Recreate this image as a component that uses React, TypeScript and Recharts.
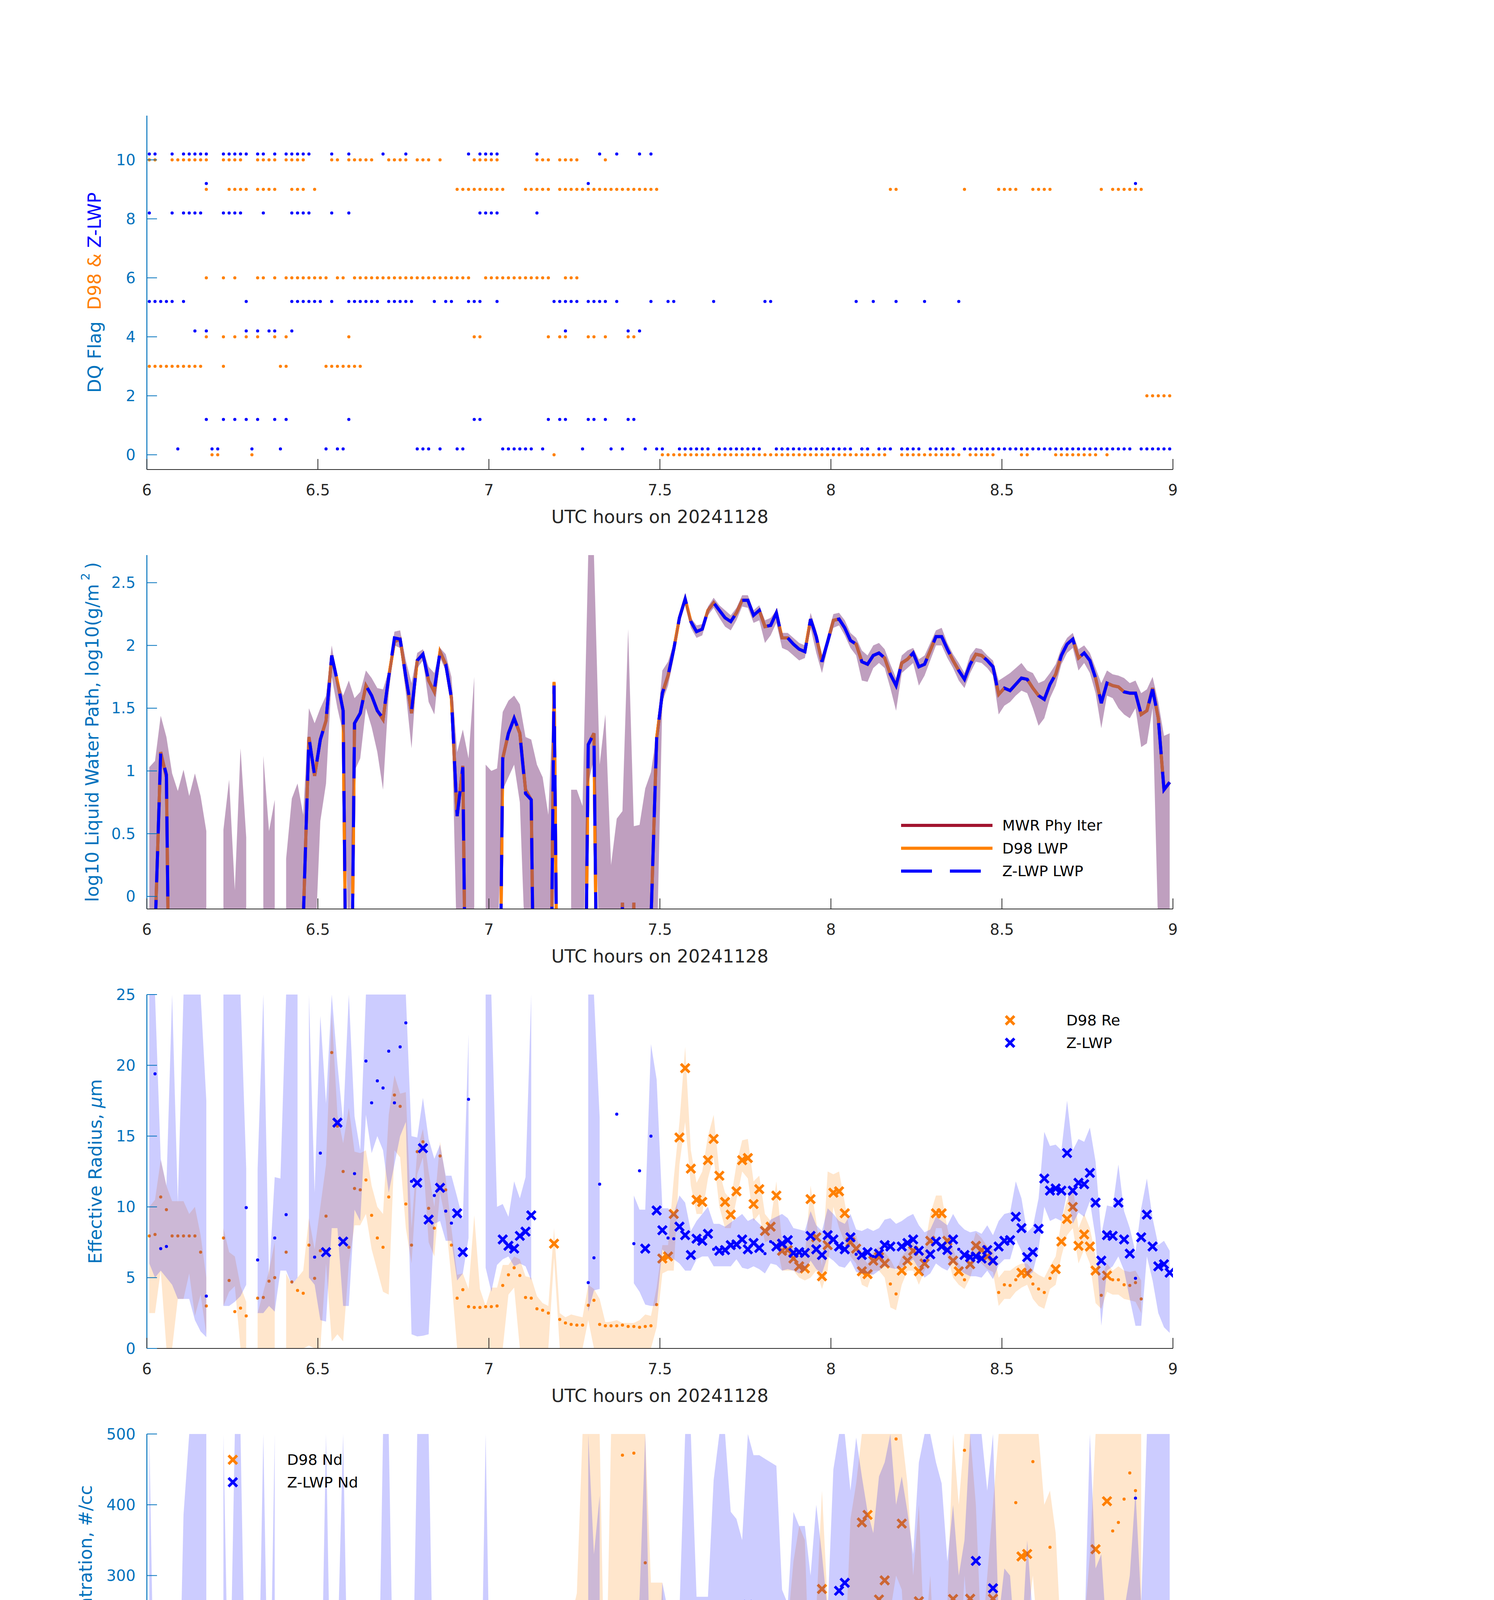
import React from "react"
import { ComposedChart, Line, Area, Scatter, XAxis, YAxis, Legend } from "recharts"

const _ = null

// one sample per minute, sample i sits at 6 h + (i + 0.43) min
const tAt = (i: number) => 6 + (i + 0.43) / 60

// ---- panel 1: DQ flags, [plotted level, sample indices] ----
const d98FlagRows: [number, number[]][] = [
  [10, [0, 1, 4, 5, 6, 7, 8, 9, 10, 13, 14, 15, 16, 19, 20, 21, 22, 24, 25, 26, 27, 32, 33, 35, 36, 37, 38, 39, 42, 43, 44, 45, 47, 48, 49, 51, 57, 58, 59, 60, 61, 68, 69, 70, 72, 73, 74, 75, 80]],
  [9, [10, 14, 15, 16, 17, 19, 20, 21, 22, 25, 26, 27, 29, 54, 55, 56, 57, 58, 59, 60, 61, 62, 66, 67, 68, 69, 70, 72, 73, 74, 75, 76, 77, 78, 79, 80, 81, 82, 83, 84, 85, 86, 87, 88, 89, 130, 131, 143, 149, 150, 151, 152, 155, 156, 157, 158, 167, 169, 170, 171, 172, 173, 174]],
  [6, [10, 13, 15, 19, 20, 22, 24, 25, 26, 27, 28, 29, 30, 31, 33, 34, 36, 37, 38, 39, 40, 41, 42, 43, 44, 45, 46, 47, 48, 49, 50, 51, 52, 53, 54, 55, 56, 59, 60, 61, 62, 63, 64, 65, 66, 67, 68, 69, 70, 73, 74, 75]],
  [4, [10, 13, 15, 17, 19, 22, 24, 35, 57, 58, 70, 72, 73, 77, 78, 80, 84, 85]],
  [3, [0, 1, 2, 3, 4, 5, 6, 7, 8, 9, 13, 23, 24, 31, 32, 33, 34, 35, 36, 37]],
  [2, [175, 176, 177, 178, 179]],
  [0, [11, 12, 18, 71, 90, 91, 92, 93, 94, 95, 96, 97, 98, 99, 100, 101, 102, 103, 104, 105, 106, 107, 108, 109, 110, 111, 112, 113, 114, 115, 116, 117, 118, 119, 120, 121, 122, 123, 124, 125, 126, 127, 128, 129, 132, 133, 134, 135, 136, 137, 138, 139, 140, 141, 142, 144, 145, 146, 147, 148, 153, 154, 159, 160, 161, 162, 163, 164, 165, 166, 168]],
]
const zFlagRows: [number, number[]][] = [
  [10.2, [0, 1, 4, 6, 7, 8, 9, 10, 13, 14, 15, 16, 17, 19, 20, 22, 24, 25, 26, 27, 28, 32, 35, 41, 45, 56, 58, 59, 60, 61, 68, 79, 82, 86, 88]],
  [9.2, [10, 77, 173]],
  [8.2, [0, 4, 6, 7, 8, 9, 13, 14, 15, 16, 20, 25, 26, 27, 28, 32, 35, 58, 59, 60, 61, 68]],
  [5.2, [0, 1, 2, 3, 4, 6, 17, 25, 26, 27, 28, 29, 30, 32, 35, 36, 37, 38, 39, 40, 42, 43, 44, 45, 46, 50, 52, 53, 56, 57, 58, 61, 71, 72, 73, 74, 75, 77, 78, 79, 80, 82, 88, 91, 92, 99, 108, 109, 124, 127, 131, 136, 142]],
  [4.2, [8, 10, 17, 19, 21, 22, 25, 73, 84, 86]],
  [1.2, [10, 13, 15, 17, 19, 22, 24, 35, 57, 58, 70, 72, 73, 77, 78, 80, 84, 85]],
  [0.2, [5, 11, 12, 18, 23, 31, 33, 34, 47, 48, 49, 51, 54, 55, 62, 63, 64, 65, 66, 67, 69, 76, 81, 83, 87, 89, 90, 93, 94, 95, 96, 97, 98, 100, 101, 102, 103, 104, 105, 106, 107, 110, 111, 112, 113, 114, 115, 116, 117, 118, 119, 120, 121, 122, 123, 125, 126, 128, 129, 130, 132, 133, 134, 135, 137, 138, 139, 140, 141, 143, 144, 145, 146, 147, 148, 149, 150, 151, 152, 153, 154, 155, 156, 157, 158, 159, 160, 161, 162, 163, 164, 165, 166, 167, 168, 169, 170, 171, 172, 174, 175, 176, 177, 178, 179]],
]

// ---- panel 2: log10 LWP ----
const lwpZ = [
  -3, -0.3, 1.15, 0.97, -3, -3, -3, -3, -3, -3,
  -3, -3, -3, -3, -3, -3, -3, -3, -3, -3,
  -3, -3, -3, -3, -3, -3, -3, -0.2, 1.27, 0.96,
  1.25, 1.4, 1.92, 1.71, 1.48, -3, 1.38, 1.46, 1.68, 1.6,
  1.48, 1.42, 1.75, 2.06, 2.05, 1.75, 1.48, 1.88, 1.93, 1.72,
  1.65, 1.95, 1.85, 1.58, 0.64, 1.03, -3, -3, -3, -3,
  -3, -3, 1.1, 1.3, 1.42, 1.3, 0.82, 0.77, -3, -3,
  -3, 1.68, -3, -3, -3, -3, -3, 1.21, 1.3, -3,
  -3, -3, -3, -0.05, -3, -3, -3, -3, -0.2, 1.26,
  1.62, 1.76, 1.97, 2.22, 2.37, 2.19, 2.11, 2.13, 2.28, 2.34,
  2.28, 2.22, 2.19, 2.26, 2.36, 2.36, 2.24, 2.28, 2.15, 2.16,
  2.26, 2.06, 2.06, 2.01, 1.97, 1.95, 2.21, 2.07, 1.87, 2.03,
  2.2, 2.21, 2.14, 2.04, 2.01, 1.87, 1.85, 1.92, 1.94, 1.9,
  1.77, 1.68, 1.86, 1.89, 1.94, 1.83, 1.85, 1.96, 2.07, 2.07,
  1.97, 1.88, 1.8, 1.73, 1.85, 1.93, 1.92, 1.88, 1.83, 1.61,
  1.66, 1.64, 1.69, 1.74, 1.73, 1.66, 1.6, 1.57, 1.69, 1.77,
  1.92, 2.01, 2.05, 1.9, 1.94, 1.88, 1.74, 1.54, 1.7, 1.68,
  1.67, 1.63, 1.62, 1.62, 1.45, 1.48, 1.65, 1.42, 0.85, 0.91,
]
const lwpD98 = [
  -3, -0.3, 1.15, 0.95, -3, -3, -3, -3, -3, -3,
  -3, -3, -3, -3, -3, -3, -3, -3, -3, -3,
  -3, -3, -3, -3, -3, -3, -3, -0.2, 1.27, 0.96,
  1.25, 1.4, 1.92, 1.71, 1.48, -3, 1.38, 1.46, 1.68, 1.6,
  1.48, 1.41, 1.75, 2.03, 2.05, 1.75, 1.46, 1.88, 1.93, 1.72,
  1.63, 1.95, 1.85, 1.58, 0.64, 1.04, -3, -3, -3, -3,
  -3, -3, 1.1, 1.3, 1.42, 1.3, 0.85, 0.77, -3, -3,
  -3, 1.71, -3, -3, -3, -3, -3, 1.21, 1.3, -3,
  -3, -3, -3, -0.05, -3, -0.05, -3, -3, -0.2, 1.26,
  1.62, 1.76, 1.97, 2.22, 2.37, 2.19, 2.11, 2.13, 2.28, 2.34,
  2.28, 2.22, 2.19, 2.26, 2.36, 2.36, 2.24, 2.28, 2.15, 2.16,
  2.26, 2.06, 2.06, 2.01, 1.97, 1.95, 2.21, 2.07, 1.87, 2.03,
  2.2, 2.21, 2.14, 2.04, 2.01, 1.87, 1.85, 1.92, 1.94, 1.9,
  1.77, 1.68, 1.86, 1.89, 1.94, 1.83, 1.85, 1.96, 2.07, 2.07,
  1.97, 1.88, 1.8, 1.73, 1.85, 1.93, 1.92, 1.88, 1.83, 1.61,
  1.66, 1.64, 1.69, 1.74, 1.73, 1.66, 1.6, 1.57, 1.69, 1.77,
  1.92, 2.01, 2.05, 1.9, 1.94, 1.88, 1.74, 1.54, 1.7, 1.68,
  1.67, 1.63, 1.62, 1.62, 1.45, 1.48, 1.66, 1.42, 0.85, 0.91,
]
const lwpMwr = [
  -3, -0.3, 1.15, 0.95, -3, -3, -3, -3, -3, -3,
  -3, -3, -3, -3, -3, -3, -3, -3, -3, -3,
  -3, -3, -3, -3, -3, -3, -3, -0.2, 1.27, 0.96,
  1.25, 1.4, 1.92, 1.71, 1.48, -3, 1.38, 1.46, 1.68, 1.6,
  1.48, 1.41, 1.75, 2.03, 2.05, 1.75, 1.46, 1.88, 1.93, 1.72,
  1.63, 1.95, 1.85, 1.58, 0.64, 1.04, -3, -3, -3, -3,
  -3, -3, 1.1, 1.3, 1.42, 1.3, 0.85, 0.77, -3, -3,
  -3, 1.7, -3, -3, -3, -3, -3, 1.21, 1.3, -3,
  -3, -3, -3, -0.05, -3, -0.05, -3, -3, -0.2, 1.26,
  1.62, 1.76, 1.97, 2.22, 2.37, 2.19, 2.11, 2.13, 2.28, 2.34,
  2.28, 2.22, 2.19, 2.26, 2.36, 2.36, 2.24, 2.28, 2.15, 2.16,
  2.26, 2.06, 2.06, 2.01, 1.97, 1.95, 2.21, 2.07, 1.87, 2.03,
  2.2, 2.21, 2.14, 2.04, 2.01, 1.87, 1.85, 1.92, 1.94, 1.9,
  1.77, 1.68, 1.86, 1.89, 1.94, 1.83, 1.85, 1.96, 2.07, 2.07,
  1.97, 1.88, 1.8, 1.73, 1.85, 1.93, 1.92, 1.88, 1.83, 1.61,
  1.66, 1.64, 1.69, 1.74, 1.73, 1.66, 1.6, 1.57, 1.69, 1.77,
  1.92, 2.01, 2.05, 1.9, 1.94, 1.88, 1.74, 1.54, 1.7, 1.68,
  1.67, 1.63, 1.62, 1.62, 1.45, 1.48, 1.66, 1.42, 0.85, 0.91,
]
const lwpBandHi = [
  1.03, 1.08, 1.44, 1.27, 0.98, 0.84, 1.01, 0.8, 0.98, 0.8,
  0.52, _, _, 0.53, 0.93, 0.05, 1.18, 0.47, _, _,
  1.12, 0.52, 0.77, _, 0.3, 0.78, 0.9, 0.65, 1.5, 1.38,
  1.5, 1.6, 2.0, 1.72, 1.6, 1.72, 1.58, 1.63, 1.8, 1.74,
  1.66, 1.65, 1.8, 2.11, 2.12, 1.88, 1.7, 1.94, 1.97, 1.83,
  1.78, 1.98, 1.93, 1.75, 1.15, 1.33, 1.1, 1.75, _, 1.05,
  1.0, 1.02, 1.47, 1.56, 1.6, 1.53, 1.27, 1.25, 1.05, 0.95,
  0.65, 1.74, _, _, 0.85, 0.85, 0.72, 2.72, 2.72, 1.05,
  1.45, 0.25, 0.62, 0.68, 2.13, 0.56, 0.57, 0.86, 0.99, 1.3,
  1.8, 1.87, 2.02, 2.25, 2.39, 2.22, 2.16, 2.17, 2.31, 2.38,
  2.32, 2.28, 2.24, 2.3, 2.4, 2.4, 2.28, 2.32, 2.2, 2.22,
  2.28, 2.1, 2.1, 2.06, 2.02, 2.0, 2.26, 2.12, 1.92, 2.08,
  2.25, 2.26, 2.2, 2.1, 2.06, 1.96, 1.92, 2.0, 2.02, 1.97,
  1.85, 1.74, 1.92, 1.96, 1.98, 1.89, 1.92, 2.02, 2.12, 2.14,
  2.02, 1.93, 1.86, 1.78, 1.92, 1.98, 1.97, 1.92, 1.88, 1.72,
  1.75, 1.78, 1.82, 1.86, 1.8, 1.78, 1.7, 1.72, 1.78, 1.85,
  1.98, 2.06, 2.1, 1.97, 2.0, 1.94, 1.82, 1.7, 1.8, 1.77,
  1.76, 1.74, 1.7, 1.72, 1.62, 1.65, 1.75, 1.55, 1.28, 1.3,
]
const lwpBandLo = [
  -0.5, -0.5, -0.5, -0.5, -0.5, -0.5, -0.5, -0.5, -0.5, -0.5,
  -0.5, _, _, -0.5, -0.5, -0.5, -0.5, -0.5, _, _,
  -0.5, -0.5, -0.5, _, -0.5, -0.5, -0.5, -0.5, -0.5, -0.5,
  0.6, 0.9, 1.75, 1.5, 1.3, -0.5, 1.0, 1.1, 1.5, 1.35,
  1.15, 0.85, 1.62, 2.0, 1.98, 1.62, 1.18, 1.82, 1.88, 1.55,
  1.45, 1.9, 1.8, 1.5, -0.5, -0.5, -0.5, -0.5, _, -0.5,
  -0.5, -0.5, 0.85, 0.95, 1.05, 0.75, -0.5, -0.5, -0.5, -0.5,
  -0.5, -0.5, _, _, -0.5, -0.5, -0.5, 0.9, 1.1, -0.5,
  -0.5, -0.5, -0.5, -0.5, -0.5, -0.5, -0.5, -0.5, -0.5, -0.5,
  1.55, 1.68, 1.9, 2.18, 2.33, 2.14, 2.06, 2.08, 2.24, 2.3,
  2.22, 2.15, 2.12, 2.2, 2.31, 2.3, 2.18, 2.2, 2.02, 2.08,
  2.18, 1.98, 1.96, 1.92, 1.88, 1.9, 2.14, 1.94, 1.78, 1.98,
  2.14, 2.16, 2.08, 1.98, 1.92, 1.72, 1.71, 1.82, 1.86, 1.82,
  1.66, 1.48, 1.78, 1.82, 1.86, 1.68, 1.76, 1.88, 2.0, 2.0,
  1.9, 1.82, 1.72, 1.66, 1.78, 1.87, 1.86, 1.82, 1.76, 1.45,
  1.52, 1.55, 1.6, 1.64, 1.62, 1.5, 1.36, 1.42, 1.58, 1.68,
  1.85, 1.94, 1.98, 1.8, 1.86, 1.78, 1.62, 1.34, 1.6, 1.58,
  1.5, 1.45, 1.42, 1.5, 1.19, 1.22, 1.5, -0.3, -0.3, -0.3,
]

// ---- panel 3: effective radius (um) ----
const reD98Hi = [
  10, 10.5, 13.3, 11.5, 10.4, 10.4, 10.4, 9.5, 10, 8,
  5, _, _, 8.5, 6.8, 6.5, 4.4, 3.3, _, 2.5,
  4, 5.5, 7.5, _, 5.3, 4.5, 5, 5.5, 9.2, 7,
  10, 13, 23.7, 16.5, 14.5, 17, 13.9, 13.8, 14, 11.5,
  10, 9.5, 16.5, 19.3, 18, 18.1, 8.5, 14, 15.5, 12.5,
  10, 14.6, 12, 8.5, 5.2, 5.3, 4.2, 9.4, 4.2, 3,
  4.3, 4.3, 5.9, 5.9, 6.5, 6.3, 5.1, 5, 3.7, 3.2,
  3, 8.5, 2.5, 2.2, 2.4, 2.3, 2.2, 4.5, 4.2, 3.5,
  1.85, 1.9, 2, 1.8, 1.8, 1.8, 2, 2.4, 2.3, 4.3,
  7.3, 7.3, 12, 16, 21.3, 14, 11.7, 12.5, 15, 16.5,
  12.5, 11, 10.5, 13, 14.7, 14.8, 11.8, 12.2, 9.5, 9,
  11.8, 7.5, 7.5, 7, 6.8, 6.5, 11.5, 9, 5.8, 12.5,
  12.3, 12.5, 10.3, 8, 8, 6.5, 6, 6.8, 7.2, 6.8,
  6.3, 5.5, 6.5, 7, 7.5, 6.5, 7, 9.5, 10.8, 10.8,
  8.5, 7, 6, 5.5, 6.8, 8.2, 7.8, 7.2, 7, 5,
  5.5, 5.5, 5.8, 6, 6, 5.5, 5.2, 5, 5.8, 6.5,
  9, 10.5, 11.5, 8.5, 9.5, 8.5, 6.5, 5, 6, 5.5,
  5.8, 5.5, 5.4, 5.5, 4.8, _, _, _, _, _,
]
const reD98Lo = [
  2.5, 2.5, 5.5, 0, 0, 3.5, 3.5, 5.3, 2.3, 3.8,
  1, _, _, 3, 4, 4.4, 0, 0, _, 0,
  0, 0, 0, _, 0, 0, 0, 0, 0.2, 0,
  0, 6, 0.5, 1, 0.5, 6, 8.7, 8.7, 9.5, 7,
  5.5, 4, 3.8, 14, 13.5, 8.5, 6, 12.3, 13.5, 7.5,
  6.5, 11, 9, 4.9, 0, 0, 0, 0, 0, 0,
  0, 0, 0, 3.8, 4.3, 0, 0, 0, 0, 0,
  0, 6.4, 0, 0, 0, 0, 0, 2, 0, 0,
  0, 0, 0, 0, 0, 0, 0, 0, 0, 1.5,
  5.3, 5.5, 5.5, 13, 16, 11.5, 9.5, 9.5, 12, 13.5,
  10, 8.5, 8.5, 10.5, 12.5, 12, 9, 9.5, 7.5, 7.7,
  7.5, 5.5, 5.5, 5.5, 5, 4.8, 5, 5.5, 4.2, 5.5,
  10, 8.5, 7.5, 6.5, 6, 4.5, 4.3, 5.5, 5.5, 5,
  2.9, 2.7, 4.5, 5.5, 5.5, 4.5, 5.5, 6.5, 8.5, 8.5,
  6.5, 5, 4.5, 4.2, 5, 6.4, 6, 5.6, 5.4, 3,
  3.5, 3.5, 4, 4.3, 4.5, 3.5, 3, 2.8, 4.2, 4.5,
  6.5, 8, 8.5, 6, 7, 6, 3.2, 2.8, 4, 3.8,
  3.8, 3.5, 3.4, 3.3, 2.5, _, _, _, _, _,
]
const reZHi = [
  25, 25, 13.4, 11.5, 25, 10.3, 25, 25, 25, 25,
  17.5, _, _, 25, 25, 25, 25, 12.7, _, 12.7,
  25, 5, 12.1, 12, 25, 25, 25, _, 25, 11,
  23.5, 17.3, 25, 20.1, 16, 25, 16.4, 14, 25, 25,
  25, 25, 25, 25, 25, 25, 15, 14.9, 17.7, 14.8,
  13.4, 14.4, 12.2, 12.2, 10.7, 9.1, 22.2, _, _, 25,
  25, 10, 10.2, 9.3, 11.8, 10.6, 12.1, 25, _, _,
  _, _, _, _, _, _, _, 25, 25, 16.3,
  _, _, 25, _, _, 10.8, 9.8, 9.8, 21.5, 19,
  9.9, 9.9, 9.5, 10.8, 10.3, 8.3, 9, 9.5, 10, 8.8,
  8.8, 8.6, 8.9, 9.2, 9.5, 9, 9.2, 8.8, 8.4, 9.1,
  9.3, 9.5, 9.2, 8.5, 8.4, 8.3, 9.7, 8.7, 8.3, 9.9,
  9.5, 9, 8.8, 9.5, 8.4, 8.3, 8.5, 8.3, 8.5, 9.1,
  9.2, 8.8, 9, 9.3, 9.5, 8.7, 8.2, 8.4, 9.3, 9,
  8.7, 9.5, 8.8, 8.4, 8.2, 8.3, 8.1, 8.7, 8, 9,
  9.5, 9.6, 11.8, 10.6, 8.2, 8.6, 10.6, 15.3, 14.3, 14.4,
  14, 17.5, 14, 14.8, 14.6, 15.6, 13.2, 8, 10.1, 10,
  13, 9.7, 8.5, 6.8, 9.9, 12, 9.2, 7.3, 7.6, 6.9,
]
const reZLo = [
  6, 5, 5.5, 5, 4.5, 3.5, 3.5, 3.5, 2, 1.2,
  0.8, _, _, 3, 3, 3.3, 3.7, 4.5, _, 2.5,
  2.5, 3, 2.6, 5.5, 5.5, 4.5, 5, _, 5, 4.5,
  2, 1.9, 8.5, 8.5, 3, 3, 9.8, 9, 16.5, 13.8,
  15, 14, 11, 13, 15, 16, 1, 0.85, 0.9, 1,
  8.8, 9, 7.6, 7.6, 4.8, 5.3, 7.8, _, _, 5.7,
  4, 5.9, 6.3, 6.5, 5.8, 6, 5.8, 4.8, _, _,
  _, _, _, _, _, _, _, 2.6, 4.1, 4.2,
  _, _, 5.9, _, _, 4.6, 4, 3.1, 3, 3,
  7, 6.5, 6.3, 6, 5.5, 5.5, 6.3, 6.5, 6.5, 5.8,
  5.8, 5.8, 5.8, 6.3, 5.7, 5.6, 5.8, 5.6, 5.3, 6,
  5.9, 5.5, 5.6, 5.5, 5.3, 5.5, 6.2, 5.6, 5.3, 6.5,
  6.2, 5.8, 5.7, 6.2, 5.4, 5.3, 5.3, 5.2, 5.5, 5.8,
  5.7, 5.6, 5.7, 6, 6.3, 5.6, 5, 5.3, 6, 5.7,
  5.5, 6.1, 5.6, 5.3, 5.1, 5.1, 5, 5.5, 4.9, 5.9,
  6.3, 6.3, 7.7, 6.9, 5.1, 5.4, 7, 10, 9, 9.2,
  9, 11, 8.8, 9.6, 9.3, 10.4, 7.8, 1.6, 5.5, 5.8,
  6.5, 5.5, 3.5, 1.6, 1.6, 6.5, 4.8, 2.5, 1.5, 1.1,
]
// [sample index, value]
const reD98Dot = [[0, 7.95], [1, 8.05], [2, 10.7], [3, 9.8], [4, 7.95], [5, 7.95], [6, 7.95], [7, 7.95], [8, 7.95], [9, 6.8], [10, 3.0], [13, 7.8], [14, 4.8], [15, 2.6], [16, 2.85], [17, 2.3], [19, 3.55], [20, 3.6], [21, 4.75], [22, 5.0], [24, 6.8], [25, 4.7], [26, 4.1], [27, 3.9], [28, 7.3], [29, 4.95], [30, 6.9], [31, 9.35], [32, 20.9], [33, 15.7], [34, 12.5], [35, 7.15], [36, 11.3], [37, 11.2], [38, 11.9], [39, 9.4], [40, 7.8], [41, 7.15], [42, 10.7], [43, 17.9], [44, 17.1], [45, 10.2], [46, 7.3], [47, 13.9], [48, 14.6], [49, 9.9], [50, 8.5], [51, 13.6], [52, 11.2], [53, 7.3], [54, 3.55], [55, 4.15], [56, 2.95], [57, 2.9], [58, 2.9], [59, 2.95], [60, 2.95], [61, 3.0], [62, 4.45], [63, 5.2], [64, 5.7], [65, 5.15], [66, 3.6], [67, 3.55], [68, 2.8], [69, 2.7], [70, 2.5], [72, 2.05], [73, 1.8], [74, 1.7], [75, 1.65], [76, 1.65], [77, 3.05], [78, 3.4], [79, 1.7], [80, 1.6], [81, 1.6], [82, 1.6], [83, 1.65], [84, 1.55], [85, 1.55], [86, 1.5], [87, 1.55], [88, 1.6], [89, 3.1], [130, 4.55], [131, 3.85], [143, 4.85], [149, 3.95], [150, 4.5], [151, 4.45], [152, 4.85], [155, 4.55], [156, 4.2], [157, 3.95], [158, 4.95], [167, 3.75], [169, 4.85], [170, 4.85], [171, 4.5], [172, 4.45], [173, 4.65], [174, 3.5]]
const reD98X = [[71, 7.4], [90, 6.35], [91, 6.5], [92, 9.5], [93, 14.9], [94, 19.8], [95, 12.7], [96, 10.5], [97, 10.35], [98, 13.3], [99, 14.8], [100, 12.2], [101, 10.35], [102, 9.45], [103, 11.1], [104, 13.3], [105, 13.45], [106, 10.2], [107, 11.25], [108, 8.3], [109, 8.6], [110, 10.8], [111, 6.9], [112, 6.95], [113, 6.35], [114, 5.8], [115, 5.65], [116, 10.55], [117, 7.85], [118, 5.1], [119, 7.3], [120, 11.0], [121, 11.1], [122, 9.55], [123, 7.5], [124, 7.05], [125, 5.45], [126, 5.25], [127, 6.2], [128, 6.45], [129, 6.0], [132, 5.5], [133, 6.2], [134, 6.9], [135, 5.45], [136, 6.0], [137, 7.6], [138, 9.55], [139, 9.55], [140, 7.6], [141, 6.2], [142, 5.45], [144, 5.95], [145, 7.25], [146, 6.95], [147, 6.5], [148, 6.2], [153, 5.35], [154, 5.3], [159, 5.6], [160, 7.55], [161, 9.15], [162, 10.0], [163, 7.25], [164, 8.05], [165, 7.2], [166, 5.5], [168, 5.15]]
const reZDot = [[1, 19.4], [2, 7.05], [3, 7.2], [10, 3.7], [17, 9.95], [19, 6.25], [22, 7.8], [24, 9.45], [29, 6.45], [30, 13.8], [36, 12.35], [38, 20.3], [39, 17.35], [40, 18.9], [41, 18.4], [42, 21.0], [43, 17.35], [44, 21.3], [45, 23.0], [46, 11.8], [50, 10.8], [52, 9.7], [53, 8.85], [56, 17.6], [77, 4.65], [78, 6.4], [79, 11.6], [82, 16.55], [85, 7.4], [86, 12.55], [88, 15.0], [91, 7.8], [92, 7.75], [99, 7.0], [108, 6.7], [109, 7.55], [124, 6.65], [127, 6.5], [136, 6.2], [142, 7.0], [173, 4.95]]
const reZX = [[31, 6.8], [33, 15.95], [34, 7.55], [47, 11.7], [48, 14.15], [49, 9.1], [51, 11.35], [54, 9.55], [55, 6.8], [62, 7.7], [63, 7.25], [64, 7.05], [65, 7.95], [66, 8.25], [67, 9.4], [87, 7.05], [89, 9.75], [90, 8.35], [93, 8.6], [94, 8.0], [95, 6.6], [96, 7.75], [97, 7.6], [98, 8.1], [100, 6.9], [101, 6.95], [102, 7.3], [103, 7.35], [104, 7.7], [105, 7.0], [106, 7.45], [107, 7.1], [110, 7.2], [111, 7.4], [112, 7.65], [113, 6.75], [114, 6.8], [115, 6.75], [116, 7.95], [117, 7.0], [118, 6.6], [119, 8.0], [120, 7.7], [121, 7.2], [122, 7.0], [123, 7.85], [125, 6.6], [126, 6.8], [128, 6.7], [129, 7.3], [130, 7.2], [132, 7.2], [133, 7.45], [134, 7.7], [135, 6.9], [137, 6.65], [138, 7.55], [139, 7.2], [140, 6.95], [141, 7.7], [143, 6.6], [144, 6.45], [145, 6.5], [146, 6.35], [147, 6.95], [148, 6.2], [149, 7.2], [150, 7.6], [151, 7.65], [152, 9.3], [153, 8.5], [154, 6.45], [155, 6.8], [156, 8.45], [157, 12.0], [158, 11.15], [159, 11.3], [160, 11.15], [161, 13.8], [162, 11.15], [163, 11.7], [164, 11.6], [165, 12.4], [166, 10.3], [167, 6.2], [168, 8.0], [169, 7.95], [170, 10.3], [171, 7.7], [172, 6.7], [174, 7.85], [175, 9.45], [176, 7.2], [177, 5.8], [178, 5.95], [179, 5.35]]

// ---- panel 4: droplet concentration (#/cc) ----
const ndD98Hi = [
  15, 10, 130, 20, 5, 20, 15, 20, 25, 60,
  70, _, _, 50, 60, 226, 140, 145, _, 70,
  30, 10, 20, _, 20, 15, 25, 10, 20, 35,
  35, 35, 5, 10, 10, 5, 5, 5, 8, 10,
  12, 12, 8, 6, 6, 8, 15, 8, 8, 10,
  15, 10, 15, 20, 25, 30, 10, 3, 3, 3,
  3, 3, 25, 25, 25, 25, 25, 25, 25, 30,
  32, 35, 5, 5, 240, 275, 500, 500, 500, 500,
  80, 500, 500, 500, 500, 500, 500, 500, 290, 290,
  290, 100, 40, 40, 30, 50, 60, 60, 45, 30,
  55, 90, 90, 80, 50, 45, 80, 75, 110, 150,
  90, 200, 230, 320, 370, 350, 100, 250, 420, 260,
  90, 110, 170, 380, 430, 500, 500, 500, 500, 500,
  500, 500, 500, 430, 300, 400, 200, 300, 150, 150,
  260, 500, 400, 500, 500, 400, 200, 300, 400, 500,
  500, 500, 500, 500, 500, 500, 500, 400, 420, 360,
  200, 150, 130, 220, 230, 330, 500, 500, 500, 500,
  500, 500, 500, 500, 500, _, _, _, _, _,
]
const ndD98Lo = [
  0, 0, 0, 0, 0, 0, 0, 0, 0, 0,
  0, _, _, 0, 0, 0, 0, 0, _, 0,
  0, 0, 0, _, 0, 0, 0, 0, 0, 0,
  5, 0, 0, 0, 0, 0, 0, 0, 0, 0,
  2, 2, 0, 0, 0, 0, 2, 0, 0, 0,
  2, 0, 2, 5, 5, 10, 0, 0, 0, 0,
  0, 0, 10, 10, 12, 12, 10, 10, 5, 0,
  0, 0, 0, 0, 0, 0, 0, 0, 0, 0,
  0, 0, 0, 0, 30, 50, 50, 60, 0, 0,
  20, 60, 15, 15, 5, 15, 25, 30, 20, 10,
  25, 35, 40, 35, 20, 20, 45, 35, 50, 80,
  40, 100, 110, 120, 130, 150, 50, 70, 170, 90,
  40, 45, 60, 100, 80, 230, 250, 130, 150, 180,
  250, 300, 280, 140, 80, 150, 60, 80, 60, 60,
  90, 220, 130, 300, 200, 120, 80, 100, 170, 260,
  260, 250, 260, 230, 230, 300, 200, 150, 200, 180,
  60, 40, 30, 80, 90, 140, 260, 260, 260, 250,
  250, 230, 230, 240, 240, _, _, _, _, _,
]
const ndZHi = [
  500, 30, 165, 130, 132, 20, 386, 500, 500, 500,
  500, _, _, 500, 60, 500, 500, 50, _, 44,
  500, 20, 500, _, 30, 92, 20, 10, 30, 172,
  40, 500, 20, 186, 500, 38, 20, 10, 15, 12,
  10, 500, 500, 38, 15, 10, 35, 500, 500, 500,
  48, 77, 130, 96, 180, 168, 30, _, 10, 500,
  10, 20, 173, 173, 187, 128, 158, 97, 173, _,
  _, _, _, _, _, _, _, 500, 330, 413,
  _, _, 80, _, _, 170, 270, 500, 100, 130,
  290, 250, 250, 250, 500, 500, 270, 270, 270, 435,
  500, 500, 390, 380, 350, 500, 470, 470, 465, 460,
  455, 280, 260, 390, 370, 370, 300, 400, 330, 250,
  450, 500, 500, 420, 495, 440, 390, 360, 440, 460,
  500, 400, 440, 390, 330, 460, 500, 500, 460, 430,
  320, 400, 300, 350, 500, 500, 500, 420, 500, 240,
  310, 300, 190, 200, 350, 240, 200, 60, 55, 60,
  90, 110, 200, 180, 200, 500, 310, 330, 210, 190,
  190, 250, 300, 420, 260, 500, 500, 500, 500, 500,
]
const ndZLo = [
  0, 0, 0, 0, 0, 0, 10, 10, 10, 15,
  0, _, _, 0, 0, 0, 0, 0, _, 0,
  0, 0, 0, _, 0, 0, 0, 0, 5, 5,
  10, 30, 0, 10, 40, 0, 0, 0, 0, 2,
  2, 0, 0, 10, 0, 0, 10, 20, 20, 25,
  10, 10, 30, 20, 5, 25, 0, _, 0, 0,
  0, 0, 20, 15, 15, 15, 10, 0, 0, _,
  _, _, _, _, _, _, _, 10, 30, 0,
  _, _, 0, _, _, 0, 0, 50, 0, 20,
  60, 40, 30, 60, 100, 120, 70, 70, 50, 100,
  140, 90, 80, 90, 80, 120, 80, 120, 100, 90,
  60, 70, 70, 90, 70, 110, 90, 80, 90, 50,
  120, 130, 100, 80, 110, 110, 90, 110, 110, 70,
  60, 40, 100, 60, 60, 80, 80, 100, 80, 100,
  80, 60, 60, 80, 100, 120, 90, 80, 100, 60,
  50, 45, 30, 40, 80, 60, 20, 5, 10, 10,
  15, 5, 20, 10, 15, 15, 20, 60, 50, 35,
  25, 30, 60, 10, 15, 15, 40, 60, 20, 35,
]
const ndD98Dot = [[0, 0], [1, 0], [2, 13], [3, 7], [4, 0], [5, 0], [6, 0], [7, 0], [8, 0], [9, 0], [10, 1.8], [13, 0], [14, 0], [15, 0], [16, 0], [17, 21], [19, 0], [20, 0], [21, 0], [22, 0], [24, 0], [25, 0], [26, 0], [27, 2.5], [28, 6.7], [29, 16.5], [30, 10], [31, 12], [32, 0.5], [33, 3], [34, 5], [35, 0], [36, 1.8], [37, 1.8], [38, 2.5], [39, 5.3], [40, 7.7], [41, 8.4], [42, 4.2], [43, 2.5], [44, 2.5], [45, 4.2], [46, 7.7], [47, 3.2], [48, 2.5], [49, 5.3], [50, 7.7], [51, 4.2], [52, 7.7], [53, 13.7], [54, 10], [55, 19.3], [56, 6], [57, 0.5], [58, 0], [59, 0], [60, 0], [61, 0], [62, 20], [63, 19], [64, 19], [65, 19.3], [66, 15], [67, 19.3], [68, 0], [69, 0.5], [70, 0], [72, 0], [73, 0], [74, 0], [75, 0], [76, 27], [77, 43.6], [78, 38], [79, 16.5], [80, 0], [81, 32], [82, 24], [83, 470], [84, 227.5], [85, 473], [86, 42], [87, 318], [88, 115], [131, 493], [143, 477], [152, 403], [155, 461], [158, 340], [169, 363], [170, 375], [171, 408], [172, 445], [173, 420]]
const ndD98X = [[71, 7.7], [90, 208], [91, 77.4], [92, 28.8], [93, 24.6], [94, 13], [95, 29.5], [96, 41], [97, 44], [98, 29.5], [99, 17.6], [100, 37.6], [101, 55.2], [102, 67.5], [103, 53.4], [104, 32.3], [105, 32.3], [106, 59.4], [107, 50], [108, 80.9], [109, 116.7], [110, 59.8], [111, 146.6], [112, 164.2], [113, 175.8], [114, 225.7], [115, 247.9], [116, 68.2], [117, 122], [118, 281], [119, 147.3], [120, 61.5], [121, 69.3], [122, 106.2], [123, 172.3], [124, 150], [125, 375], [126, 385.7], [127, 218.7], [128, 266.2], [129, 293.2], [132, 373.4], [133, 242.6], [134, 153.6], [135, 263.7], [136, 125.5], [137, 164.2], [138, 86.9], [139, 87.6], [140, 135.4], [141, 266.9], [142, 226.4], [144, 267.2], [145, 208.2], [146, 125.5], [147, 206.4], [148, 267.2], [153, 327], [154, 330.5], [159, 239.1], [160, 122.7], [161, 84], [162, 67.5], [163, 127.3], [164, 119.2], [165, 176.5], [166, 337.2], [168, 405]]
const ndZDot = [[0, 0.5], [1, 0.5], [2, 43.6], [3, 20], [4, 0.5], [6, 0.5], [7, 0.5], [8, 0.5], [9, 0.5], [10, 5], [13, 0.5], [14, 0.5], [15, 0.5], [16, 0.5], [17, 0.5], [19, 1.8], [20, 0.5], [22, 1.8], [24, 0.5], [25, 0.5], [26, 0.5], [27, 0.5], [28, 0.5], [29, 29.5], [30, 12.3], [32, 1.8], [35, 0.5], [36, 7], [38, 6], [39, 7.7], [40, 6], [41, 5], [42, 6.3], [43, 18.3], [44, 8.8], [45, 1.8], [46, 14.8], [50, 24.6], [52, 64.7], [53, 48], [56, 0.5], [58, 0.5], [59, 0.5], [60, 0.5], [61, 0.5], [68, 0.5], [77, 136], [78, 36], [79, 0.5], [82, 0.5], [85, 8.4], [86, 0.5], [88, 0.5], [91, 55], [92, 76], [99, 212], [108, 232.8], [109, 217.6], [124, 237], [127, 238], [131, 107], [136, 181.8], [142, 138.5], [173, 409.3]]
const ndZX = [[31, 212.7], [33, 20], [34, 182.5], [47, 48], [48, 22], [49, 39], [51, 39], [54, 13], [55, 41], [62, 34], [63, 63], [64, 77], [65, 44], [66, 18], [67, 9.5], [87, 7], [89, 27.8], [90, 88], [93, 124.5], [94, 191], [95, 236], [96, 122.7], [97, 129.7], [98, 133.6], [100, 237], [101, 187], [102, 163.5], [103, 188.8], [104, 182.5], [105, 258.4], [106, 163], [107, 232.8], [110, 226.8], [111, 135.4], [112, 127.3], [113, 191.6], [114, 149.4], [115, 173], [116, 167], [117, 195], [118, 168.8], [119, 116.7], [120, 194.8], [121, 278.5], [122, 289.7], [123, 153], [125, 225], [126, 187.8], [128, 246], [129, 174.8], [130, 159.6], [132, 212.7], [133, 142.4], [134, 128.3], [135, 160.7], [137, 244], [138, 162.4], [139, 220.5], [140, 183.5], [141, 122.7], [143, 187.8], [144, 246.8], [145, 320.7], [146, 229.3], [147, 198.7], [148, 282], [149, 115], [150, 109.7], [151, 109], [152, 64], [153, 93.2], [154, 202], [155, 153], [156, 83.3], [157, 20], [158, 28.8], [159, 28.8], [160, 40.4], [161, 22.9], [162, 49.2], [163, 29.5], [164, 38.7], [165, 32.3], [166, 48.2], [167, 172.3], [168, 94.6], [169, 80.9], [170, 44], [171, 75.2], [172, 132.6], [174, 60.5], [175, 34.1], [176, 98.5], [177, 129.7], [178, 48.2], [179, 134.3]]

// ---- panel 5: optical depth ----
const odD98Hi = [
  1.8, 2, 4.5, 3.5, 1.3, 1.2, 1.5, 1, 1.5, 1.2,
  1.6, _, _, 0.8, 2, 0.5, 5, 1.8, _, 0.5,
  3.5, 1, 1.6, _, 0.5, 2.5, 1.7, 1.5, 5.3, 5.3,
  5.3, 5.2, 6.7, 5.4, 4, 2, 5, 4.5, 7, 7.3,
  7.3, 7.3, 8.5, 10.5, 11, 9, 7, 9, 9.5, 8.5,
  9, 10.8, 11.2, 9, 6.5, 6.5, 6.5, 9.5, 3, 4,
  4, 3.5, 5, 7, 7.5, 7, 5, 5, 4, 3.4,
  2.6, 11.3, 9.7, 9.7, 9.7, 9.7, 9.7, 10, 11.7, 11.7,
  11.7, 11.7, 11.7, 11.7, 3, 3.4, 4.5, 4.5, 5.5, 10.5,
  14.5, 15, 17, 18.5, 19.5, 19.8, 20.5, 22, 23.5, 25,
  26, 27, 27.6, 28, 28.3, 28.5, 28.5, 28.4, 28.3, 28.2,
  28, 27.7, 27.3, 27, 26.5, 26.3, 26.2, 25.5, 24.8, 24.5,
  24.5, 24.3, 24, 23.5, 23.3, 22.8, 22.6, 22.6, 22.6, 22.4,
  22, 21.4, 21.8, 21.8, 21.5, 20.5, 20.5, 20.8, 21, 21,
  20.5, 20.2, 19.8, 19.8, 20, 20, 19.9, 19.5, 19.2, 17.8,
  18, 18, 18.2, 18.3, 18.2, 17.8, 17.3, 17, 18, 18.5,
  19.3, 19.6, 19.7, 19.5, 19.4, 19.3, 18.6, 18, 18.3, 18.2,
  18, 17.7, 17.3, 17, 16, _, _, _, _, _,
]
const odD98Lo = [
  0, 0, 0, 0.5, 0, 0, 0, 0, 0, 0,
  0, _, _, 0, 0, 0, 0, 0, _, 0,
  0, 0, 0, _, 0, 0, 0, 0, 1, 1.5,
  2, 2.6, 4, 3.5, 1.8, 0, 1.5, 2.5, 4.5, 5,
  4.5, 3.8, 6.5, 8.5, 8.5, 6, 4.5, 7.5, 7.5, 6.5,
  6.5, 9, 8.5, 6, 1.5, 2, 0, 0, 0, 0,
  0, 0, 3, 4.5, 5.5, 4.5, 2.5, 2.3, 1.3, 0,
  0, 9.5, 0, 0, 0, 0, 0, 1.5, 1.8, 0,
  0, 0, 0, 0, 0, 0, 0, 0, 0.5, 4,
  11, 11.5, 13.5, 15, 16, 16, 16, 17, 18.5, 19.5,
  20.5, 21.3, 22, 22.5, 22.8, 23, 23, 23, 23, 22.8,
  22.5, 22, 21.5, 21, 20.7, 20.5, 20.5, 20, 19.3, 19.3,
  19.3, 19.5, 18.8, 18.3, 18, 17.2, 17, 17.3, 17.3, 17,
  16.2, 15.8, 16.8, 16.5, 16.3, 15.5, 15.4, 15.8, 16, 16,
  15.4, 14.8, 14.5, 14.3, 15.3, 15.3, 15, 14.7, 14.3, 12.2,
  12.5, 12.3, 12.5, 13, 12.8, 12, 11.5, 11.2, 12.3, 13,
  13.8, 14.2, 14.2, 13.7, 13.6, 13.2, 12, 11.5, 11.5, 11.3,
  11, 10.7, 10.5, 10.2, 9, _, _, _, _, _,
]
const odZHi = [
  6.3, 3, 7.7, 5, 3.2, _, 4.6, 2, 6.9, 3,
  5.4, _, _, 1.8, 3.2, 1, 8.9, 1.8, _, 0.5,
  6.8, _, 3.4, _, 0.5, 2.2, 1.5, 0.5, 2, 7.2,
  5, 21, 6.5, 8.9, 14, 5, 5.8, _, 5.2, 5.2,
  4.3, 11.5, 5.5, 13, 11, 6.5, 7, 51.5, 52.7, 52.7,
  6.5, 15, 15, 11, 3, 6.3, 2.7, _, 0.3, 2.5,
  4, 2.5, 7.8, 8.4, 10, 7.9, 5.2, 5, 3.5, _,
  _, _, _, _, _, _, _, 13.5, 11.8, 4.2,
  _, _, 1.3, _, _, 1.2, 3.5, 3.5, 5.8, 15,
  22, 37, 37, 52.7, 52.7, 39, 35, 38, 42, 52.7,
  52.7, 48, 44, 52, 52.7, 52.7, 43, 52.7, 43, 41,
  49, 30, 29, 30, 28, 27, 40, 35, 25, 30,
  43, 44, 38, 27, 29, 23, 22, 26, 26, 23,
  18, 16, 21, 22, 23, 20, 24, 26, 31, 32,
  26, 20, 19, 18, 23, 26, 26, 23, 21, 13,
  13, 13.5, 12, 14.5, 17.5, 14, 11, 8, 11, 12,
  15, 16, 25, 15, 16, 14, 12, 32, 14, 14,
  25, 12, 14, 28, 11, 13, 14, 11, 7, 8,
]
const odZLo = [
  0, 0, 1.5, 1, 0, _, 0, 0, 0, 0,
  0, _, _, 0, 0, 0, 0, 0, _, 0,
  0, _, 0, _, 0, 0, 0, 0, 0, 1,
  0.5, 1.7, 3.5, 2.8, 2.8, 0.3, 1, _, 2.3, 2,
  1.5, 0.8, 1.5, 8, 6, 2.5, 1.7, 10, 8.5, 5.4,
  3.5, 10, 9, 5.5, 1.5, 2, 0, _, 0, 0,
  0, 0, 2.5, 3, 3.5, 2.5, 1.8, 1.2, 0, _,
  _, _, _, _, _, _, _, 0.5, 0.5, 0,
  _, _, 0, _, _, 0, 0.2, 0.2, 0.5, 1,
  7.5, 12, 15, 24, 35, 25, 20, 20, 25, 38,
  38, 30, 27, 30, 35, 43, 29, 35, 28, 26,
  31, 20, 18.5, 19, 17, 16.5, 26, 20, 13, 17,
  27, 27, 24, 16, 18, 12, 11, 13, 14, 11,
  7, 6.5, 11, 12, 13, 9, 12, 15, 20, 21,
  15, 10, 9, 8, 12, 15, 15, 11, 10, 5.5,
  6, 5.5, 5.2, 6.5, 8, 6, 4.5, 2, 4, 5,
  8, 8, 11, 7, 8, 6, 5, 6, 6, 6,
  5, 5.5, 5, 3, 2, 1.5, 5, 1, 0.5, 1,
]
const odD98Dot = [[0, 0], [1, 0], [2, 2.05], [3, 1.45], [4, 0], [5, 0], [6, 0], [7, 0], [8, 0], [9, 0], [10, 0], [13, 0], [14, 0], [15, 0], [16, 0], [17, 0.2], [19, 0], [20, 0], [21, 0], [22, 0], [24, 0], [25, 0], [26, 0], [27, 0.4], [28, 3.8], [29, 2.85], [30, 4], [31, 4.15], [32, 5.95], [33, 4.7], [34, 3.25], [35, 0], [36, 3.5], [37, 4], [38, 6.05], [39, 6.3], [40, 5.9], [41, 5.5], [42, 7.75], [43, 9.7], [44, 10], [45, 8.45], [46, 6.05], [47, 8.6], [48, 9], [49, 7.95], [50, 7.7], [51, 9.8], [52, 10.05], [53, 8.1], [54, 1.85], [55, 3.9], [56, 0.55], [57, 0], [58, 0], [59, 0], [60, 0], [61, 0], [62, 4.4], [63, 5.8], [64, 6.65], [65, 5.85], [66, 2.75], [67, 2.55], [68, 0], [69, 0], [70, 0], [72, 0], [73, 0], [74, 0], [75, 0], [76, 0], [77, 8.05], [78, 8.9], [79, 0.5], [80, 0], [81, 0], [82, 0], [83, 0.8], [84, 0.3], [85, 0.75], [86, 0.4], [87, 0.2], [88, 0.4], [89, 8.05], [130, 19.2], [131, 18.6], [143, 16.9], [149, 14.9], [150, 15.1], [151, 14.8], [152, 15.1], [155, 14.7], [156, 14.2], [157, 14], [158, 15], [167, 13.4], [169, 14.7], [170, 14.7], [171, 14.2], [172, 14], [173, 13.7], [174, 11.8]]
const odD98X = [[71, 10.55], [90, 12.7], [91, 13.4], [92, 15.2], [93, 16.7], [94, 17.6], [95, 17.7], [96, 18.2], [97, 19.4], [98, 20.9], [99, 22.2], [100, 23.3], [101, 24.1], [102, 24.8], [103, 25.2], [104, 25.5], [105, 25.6], [106, 25.6], [107, 25.5], [108, 25.4], [109, 25.2], [110, 25.0], [111, 24.8], [112, 24.4], [113, 24.0], [114, 23.7], [115, 23.4], [116, 23.7], [117, 22.7], [118, 21.9], [119, 22.0], [120, 22.1], [121, 22.0], [122, 21.4], [123, 20.9], [124, 20.7], [125, 20.0], [126, 19.9], [127, 20.2], [128, 20.1], [129, 20.0], [132, 19.4], [133, 19.2], [134, 19.0], [135, 18.1], [136, 18.0], [137, 18.3], [138, 18.6], [139, 18.6], [140, 18.0], [141, 17.4], [142, 17.0], [144, 17.8], [145, 17.8], [146, 17.7], [147, 17.3], [148, 16.9], [153, 15.6], [154, 15.4], [159, 15.4], [160, 16.4], [161, 16.8], [162, 16.8], [163, 16.2], [164, 16.2], [165, 15.9], [166, 14.9], [168, 14.8]]
const odZDot = [[0, 0], [1, 0.1], [2, 3.2], [3, 2.0], [4, 0], [6, 0], [7, 0], [8, 0], [9, 0], [10, 0], [13, 0], [14, 0], [15, 0], [16, 0], [17, 0.1], [19, 0], [20, 0], [22, 0], [24, 0], [25, 0], [26, 0], [27, 0], [28, 0.8], [29, 2.25], [30, 2.25], [32, 5.0], [35, 0], [36, 3.2], [38, 3.7], [39, 3.5], [40, 2.65], [41, 2.1], [42, 4.1], [43, 10.35], [44, 8.45], [45, 3.9], [46, 3.9], [50, 6.1], [52, 12.0], [53, 6.75], [56, 0.1], [58, 0], [59, 0], [60, 0], [61, 0], [68, 0], [77, 5.4], [78, 4.8], [79, 0.1], [82, 0], [85, 0.2], [86, 0], [88, 0.2], [91, 11.7], [92, 19.8], [99, 48.8], [108, 33.3], [109, 29.9], [124, 22.9], [127, 19.8], [131, 10.3], [136, 18.6], [142, 14.2], [173, 13.4]]
const odZX = [[31, 6.35], [33, 4.6], [34, 5.6], [47, 10.7], [48, 9.5], [49, 8.7], [51, 12.0], [54, 0.75], [55, 2.45], [62, 2.55], [63, 4.15], [64, 5.5], [65, 3.9], [66, 1.2], [67, 1.15], [87, 0.25], [89, 2.55], [90, 9.7], [93, 29.2], [94, 43.9], [95, 35.2], [96, 25.6], [97, 27.3], [98, 34.9], [100, 42.3], [101, 36.4], [102, 32.8], [103, 38.5], [104, 44.7], [105, 50.2], [106, 35.8], [107, 41.6], [110, 38.7], [111, 23.8], [112, 22.7], [113, 23.8], [114, 20.9], [115, 20.1], [116, 31.7], [117, 26.6], [118, 17.5], [119, 20.3], [120, 32.0], [121, 34.6], [122, 30.2], [123, 20.6], [125, 16.9], [126, 15.7], [128, 19.8], [129, 16.8], [130, 12.8], [132, 15.4], [133, 16.0], [134, 17.2], [135, 14.9], [137, 20.9], [138, 23.8], [139, 25.3], [140, 20.2], [141, 14.1], [143, 12.5], [144, 16.7], [145, 20.4], [146, 20.3], [147, 16.3], [148, 16.7], [149, 8.4], [150, 9.35], [151, 8.9], [152, 7.95], [153, 9.8], [154, 12.8], [155, 10.0], [156, 7.1], [157, 4.65], [158, 6.75], [159, 7.7], [160, 11.0], [161, 11.0], [162, 15.2], [163, 10.0], [164, 11.4], [165, 9.2], [166, 8.0], [167, 8.4], [168, 9.6], [169, 9.1], [170, 6.95], [171, 8.3], [172, 9.35], [174, 5.4], [175, 4.9], [176, 9.5], [177, 5.65], [178, 1.85], [179, 2.4]]

// ---- styling / layout ----
const BLUE = "#0000FF"
const ORANGE = "#FF8000"
const MWR_RED = "#A2142F"
const LWP_BAND = "#804080"
const AX_BLUE = "#0072BD"
const AX_DARK = "#262626"
const FONT = "'DejaVu Sans', Verdana, sans-serif"

const W = 3825
const PLOT_L = 376
const PLOT_R = 3003
const PLOT_H = 906
const MT = 60 // room above the plot so the top tick labels are not clipped
const XH = 150
const H = MT + PLOT_H + XH + 4
const PANEL_TOPS = [296, 1421, 2546, 3671, 4796]
const X_TICKS = [6, 6.5, 7, 7.5, 8, 8.5, 9]
const MID_Y = MT + PLOT_H / 2

const pts = (pairs: number[][]) => pairs.map(([i, v]) => ({ t: tAt(i), v }))
const flagPts = (rows: [number, number[]][]) => rows.flatMap(([lvl, idx]) => idx.map((i) => ({ t: tAt(i), v: lvl })))
const pair = (lo: number | null, hi: number | null) => (lo == null || hi == null ? null : [lo, hi])

const lwpRows = lwpZ.map((z, i) => ({ t: tAt(i), z, d: lwpD98[i], m: lwpMwr[i], band: pair(lwpBandLo[i], lwpBandHi[i]) }))
const bandRows = (oLo: any[], oHi: any[], zLo: any[], zHi: any[]) =>
  oLo.map((_v, i) => ({ t: tAt(i), bo: pair(oLo[i], oHi[i]), bz: pair(zLo[i], zHi[i]) }))

const reRows = bandRows(reD98Lo, reD98Hi, reZLo, reZHi)
const ndRows = bandRows(ndD98Lo, ndD98Hi, ndZLo, ndZHi)
const odRows = bandRows(odD98Lo, odD98Hi, odZLo, odZHi)

const XTick = (p: any) => (
  <g>
    <line x1={p.x} x2={p.x} y1={p.y} y2={p.y - 27} stroke={AX_DARK} strokeWidth={2} />
    <text x={p.x} y={p.y + 52} textAnchor="middle" dominantBaseline="central" fontSize={39} fill={AX_DARK} fontFamily={FONT}>
      {p.payload.value}
    </text>
  </g>
)
const YTick = (p: any) => (
  <g>
    <line x1={p.x} x2={p.x + 26} y1={p.y} y2={p.y} stroke={AX_BLUE} strokeWidth={2} />
    <text x={p.x - 29} y={p.y} textAnchor="end" dominantBaseline="central" fontSize={39} fill={AX_BLUE} fontFamily={FONT}>
      {p.payload.value}
    </text>
  </g>
)

const yLabel = (cx: number, content: React.ReactNode) => () => (
  <text x={cx} y={MID_Y} transform={`rotate(-90 ${cx} ${MID_Y})`} textAnchor="middle" dominantBaseline="central" fontSize={46} fill={AX_BLUE} fontFamily={FONT}>
    {content}
  </text>
)

function frame(domain: [number, number], ticks: number[], label: () => React.ReactElement) {
  return [
    <XAxis key="x" type="number" dataKey="t" domain={[6, 9]} ticks={X_TICKS} interval={0} allowDataOverflow
      height={XH} tickSize={0} tickMargin={0} tickLine={false} tick={XTick}
      axisLine={{ stroke: AX_DARK, strokeWidth: 2 }}
      label={{ value: "UTC hours on 20241128", position: "insideBottom", offset: 13, fontSize: 46, fill: AX_DARK }} />,
    <YAxis key="y" type="number" domain={domain} ticks={ticks} interval={0} allowDataOverflow width={100}
      tickSize={0} tickMargin={0} tickLine={false} tick={YTick}
      axisLine={{ stroke: AX_BLUE, strokeWidth: 2.5 }} label={label} />,
    <YAxis key="yr" yAxisId="r" orientation="right" type="number" domain={domain} allowDataOverflow width={0}
      tick={false} tickLine={false} axisLine={{ stroke: AX_BLUE, strokeWidth: 2.5 }} />,
  ]
}

const xPath = (x: number, y: number, s = 11) => `M${x - s},${y - s}L${x + s},${y + s}M${x - s},${y + s}L${x + s},${y - s}`
const dotShape = (c: string, r = 4) => (p: any) => <circle cx={p.cx} cy={p.cy} r={r} fill={c} />
const crossShape = (c: string) => (p: any) => <path d={xPath(p.cx, p.cy)} stroke={c} strokeWidth={7} fill="none" />

function LwpLegend() {
  const rows: [string, string, string | undefined][] = [
    ["MWR Phy Iter", MWR_RED, undefined],
    ["D98 LWP", ORANGE, undefined],
    ["Z-LWP LWP", BLUE, "79 46"],
  ]
  return (
    <svg width={640} height={190} style={{ display: "block" }}>
      {rows.map(([txt, c, dash], k) => (
        <g key={txt}>
          <line x1={7} x2={241} y1={30 + 58.5 * k} y2={30 + 58.5 * k} stroke={c} strokeWidth={8} strokeDasharray={dash} />
          <text x={266} y={30 + 58.5 * k} dominantBaseline="central" fontSize={38} fill="#000" fontFamily={FONT}>{txt}</text>
        </g>
      ))}
    </svg>
  )
}

function MarkerLegend({ labels, textX }: { labels: [string, string][]; textX: number }) {
  return (
    <svg width={460} height={140} style={{ display: "block" }}>
      {labels.map(([txt, c], k) => (
        <g key={txt}>
          <path d={xPath(46, 46 + 57.5 * k)} stroke={c} strokeWidth={7} fill="none" />
          <text x={textX} y={46 + 57.5 * k} dominantBaseline="central" fontSize={38} fill="#000" fontFamily={FONT}>{txt}</text>
        </g>
      ))}
    </svg>
  )
}

// the page itself: body margin cancelled so the box sits at (0,0) and the document is exactly 6000 tall
const PAGE_W = 3817
const PAGE_H = 5992

function Panel({ index, data, children }: { index: number; data?: any[]; children: React.ReactNode }) {
  return (
    <div style={{ position: "absolute", left: 0, top: PANEL_TOPS[index] - MT, width: W, height: H }}>
      <ComposedChart width={W} height={H} data={data} margin={{ top: MT, right: W - PLOT_R, bottom: 4, left: PLOT_L - 100 }}>
        {children}
      </ComposedChart>
    </div>
  )
}

// orange band / dots / x, then the semi-transparent blue band on top, then blue dots / x
function qualitySeries(o: { dot: number[][]; x: number[][] }, z: { dot: number[][]; x: number[][] }) {
  return [
    <Area key="bo" type="linear" dataKey="bo" stroke="none" fill={ORANGE} fillOpacity={0.2} dot={false} activeDot={false} isAnimationActive={false} zIndex={101} />,
    <Scatter key="od" data={pts(o.dot)} dataKey="v" shape={dotShape(ORANGE)} isAnimationActive={false} zIndex={102} />,
    <Scatter key="ox" data={pts(o.x)} dataKey="v" shape={crossShape(ORANGE)} isAnimationActive={false} zIndex={103} />,
    <Area key="bz" type="linear" dataKey="bz" stroke="none" fill={BLUE} fillOpacity={0.2} dot={false} activeDot={false} isAnimationActive={false} zIndex={104} />,
    <Scatter key="zd" data={pts(z.dot)} dataKey="v" shape={dotShape(BLUE)} isAnimationActive={false} zIndex={105} />,
    <Scatter key="zx" data={pts(z.x)} dataKey="v" shape={crossShape(BLUE)} isAnimationActive={false} zIndex={106} />,
  ]
}

export default function App() {
  return (
    <div style={{ position: "relative", width: PAGE_W, height: PAGE_H, margin: "-8px 0 0 -8px", overflow: "hidden", background: "#fff", fontFamily: FONT }}>
      <Panel index={0}>
        {frame([-0.5, 11.5], [0, 2, 4, 6, 8, 10], yLabel(242, (
          <>
            <tspan fill={AX_BLUE}>DQ Flag</tspan>
            <tspan fill={ORANGE}>{"\u00a0\u00a0D98 &\u00a0"}</tspan>
            <tspan fill={BLUE}>Z-LWP</tspan>
          </>
        )))}
        <Scatter data={flagPts(d98FlagRows)} dataKey="v" shape={dotShape(ORANGE)} isAnimationActive={false} zIndex={601} />
        <Scatter data={flagPts(zFlagRows)} dataKey="v" shape={dotShape(BLUE)} isAnimationActive={false} zIndex={602} />
      </Panel>

      <Panel index={1} data={lwpRows}>
        {frame([-0.1, 2.72], [0, 0.5, 1, 1.5, 2, 2.5], yLabel(236, (
          <>
            log10 Liquid Water Path, log10(g/m<tspan baselineShift="super" fontSize={30}>{"\u00a02\u00a0"}</tspan>)
          </>
        )))}
        <Line type="linear" dataKey="m" stroke={MWR_RED} strokeWidth={8} dot={false} activeDot={false} isAnimationActive={false} zIndex={401} />
        <Line type="linear" dataKey="d" stroke={ORANGE} strokeWidth={8} dot={false} activeDot={false} isAnimationActive={false} zIndex={402} />
        <Area type="linear" dataKey="band" stroke="none" fill={LWP_BAND} fillOpacity={0.5} dot={false} activeDot={false} isAnimationActive={false} zIndex={403} />
        <Line type="linear" dataKey="z" stroke={BLUE} strokeWidth={8} strokeDasharray="80 45" dot={false} activeDot={false} isAnimationActive={false} zIndex={404} />
        <Legend layout="horizontal" verticalAlign="middle" align="center" wrapperStyle={{ left: 2300, top: MT + 662, width: 640, height: 190 }} content={() => <LwpLegend />} />
      </Panel>

      <Panel index={2} data={reRows}>
        {frame([0, 25], [0, 5, 10, 15, 20, 25], yLabel(244, (
          <>
            Effective Radius, <tspan fontStyle="italic">μ</tspan>m
          </>
        )))}
        {qualitySeries({ dot: reD98Dot, x: reD98X }, { dot: reZDot, x: reZX })}
        <Legend layout="horizontal" verticalAlign="middle" align="center" wrapperStyle={{ left: 2540, top: MT + 20, width: 460, height: 140 }}
          content={() => <MarkerLegend labels={[["D98 Re", ORANGE], ["Z-LWP", BLUE]]} textX={190} />} />
      </Panel>

      <Panel index={3} data={ndRows}>
        {frame([0, 500], [0, 100, 200, 300, 400, 500], yLabel(219, "Droplet Concentration, #/cc"))}
        {qualitySeries({ dot: ndD98Dot, x: ndD98X }, { dot: ndZDot, x: ndZX })}
        <Legend layout="horizontal" verticalAlign="middle" align="center" wrapperStyle={{ left: 550, top: MT + 20, width: 460, height: 140 }}
          content={() => <MarkerLegend labels={[["D98 Nd", ORANGE], ["Z-LWP Nd", BLUE]]} textX={185} />} />
      </Panel>

      <Panel index={4} data={odRows}>
        {frame([0, 52.7], [0, 10, 20, 30, 40, 50], yLabel(244, "Optical Depth"))}
        {qualitySeries({ dot: odD98Dot, x: odD98X }, { dot: odZDot, x: odZX })}
        <Legend layout="horizontal" verticalAlign="middle" align="center" wrapperStyle={{ left: 2520, top: MT + 20, width: 460, height: 140 }}
          content={() => <MarkerLegend labels={[["D98 OD", ORANGE], ["Z-LWP Nd", BLUE]]} textX={186} />} />
      </Panel>
    </div>
  )
}
